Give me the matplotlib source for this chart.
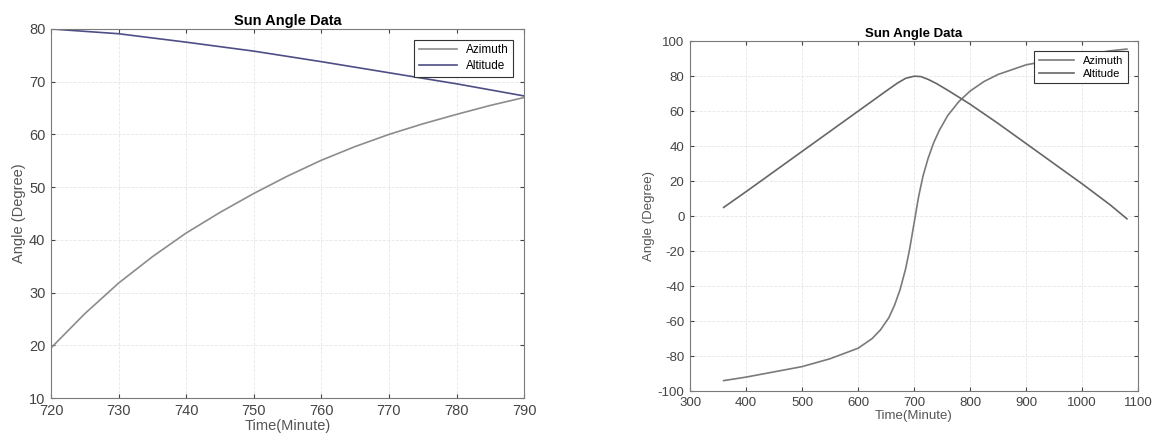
import matplotlib.pyplot as plt

plt.rcParams['font.family'] = ['Liberation Sans', 'DejaVu Sans']
plt.rcParams['axes.unicode_minus'] = False

# left panel: 720-790 minutes
t_left = [720, 725, 730, 735, 740, 745, 750, 755, 760, 765, 770, 775, 780, 785, 790]
az_left = [19.5, 26.0, 31.8, 36.8, 41.3, 45.2, 48.8, 52.1, 55.1, 57.7, 60.0, 62.0, 63.8, 65.5, 67.0]
t_left_alt = [720, 730, 740, 750, 760, 770, 780, 790]
alt_left = [80.0, 79.1, 77.5, 75.8, 73.8, 71.7, 69.6, 67.3]

# right panel: whole day
t_right_az = [360, 400, 450, 500, 550, 600, 625, 640, 655, 665, 675, 685, 692, 700, 708,
              716, 725, 735, 745, 760, 780, 800, 825, 850, 900, 950, 1000, 1050, 1080]
az_right = [-94, -92, -89, -86, -81.5, -75.5, -70, -65, -58, -51, -42, -30, -19, -4, 11,
            23, 33, 42, 49, 57.5, 65.5, 71.5, 77, 81, 86.5, 89.5, 92, 94.5, 95.5]
t_right_alt = [360, 400, 450, 500, 550, 600, 650, 670, 685, 700, 712, 725, 740, 760, 800,
               850, 900, 950, 1000, 1050, 1080]
alt_right = [5, 14, 25.5, 37, 48.5, 60, 71.5, 76, 78.8, 80, 79.8, 78.2, 75.8, 72, 64,
             53, 41.5, 30, 18.5, 6.5, -1.5]

fig = plt.figure(figsize=(11.68, 4.48), dpi=100)
ax1 = fig.add_axes([0.0437, 0.1116, 0.405, 0.8237])
ax2 = fig.add_axes([0.5908, 0.127, 0.3836, 0.781])


def style(ax, fs, lfs):
    ax.grid(True, color='#e6e6e6', linestyle='--', linewidth=0.6)
    ax.tick_params(direction='in', top=True, right=True, labelsize=fs,
                   colors='#444444', length=3, pad=4)
    for s in ax.spines.values():
        s.set_color('#7a7a7a')
        s.set_linewidth(0.8)
    ax.set_title('Sun Angle Data', fontsize=fs, fontweight='bold', pad=3)
    ax.set_xlabel('Time(Minute)', fontsize=fs, color='#555555', labelpad=1)
    ax.set_ylabel('Angle (Degree)', fontsize=fs, color='#555555', labelpad=2)
    leg = ax.legend(loc='upper right', fontsize=lfs, fancybox=False,
                    edgecolor='#333333', framealpha=1, handlelength=3.2,
                    borderaxespad=0.9, labelspacing=0.3)
    leg.get_frame().set_linewidth(0.8)


ax1.plot(t_left, az_left, color='#8c8c8c', linewidth=1.2, label='Azimuth')
ax1.plot(t_left_alt, alt_left, color='#4e4e86', linewidth=1.2, label='Altitude')
ax1.set_xlim(720, 790)
ax1.set_ylim(10, 80)
ax1.set_xticks(range(720, 791, 10))
ax1.set_yticks(range(10, 81, 10))
style(ax1, 10.5, 8.5)

ax2.plot(t_right_az, az_right, color='#7a7a7a', linewidth=1.2, label='Azimuth')
ax2.plot(t_right_alt, alt_right, color='#666666', linewidth=1.2, label='Altitude')
ax2.set_xlim(300, 1100)
ax2.set_ylim(-100, 100)
ax2.set_xticks(range(300, 1101, 100))
ax2.set_yticks(range(-100, 101, 20))
style(ax2, 9.5, 8)

fig.savefig('out.png', dpi=100)
